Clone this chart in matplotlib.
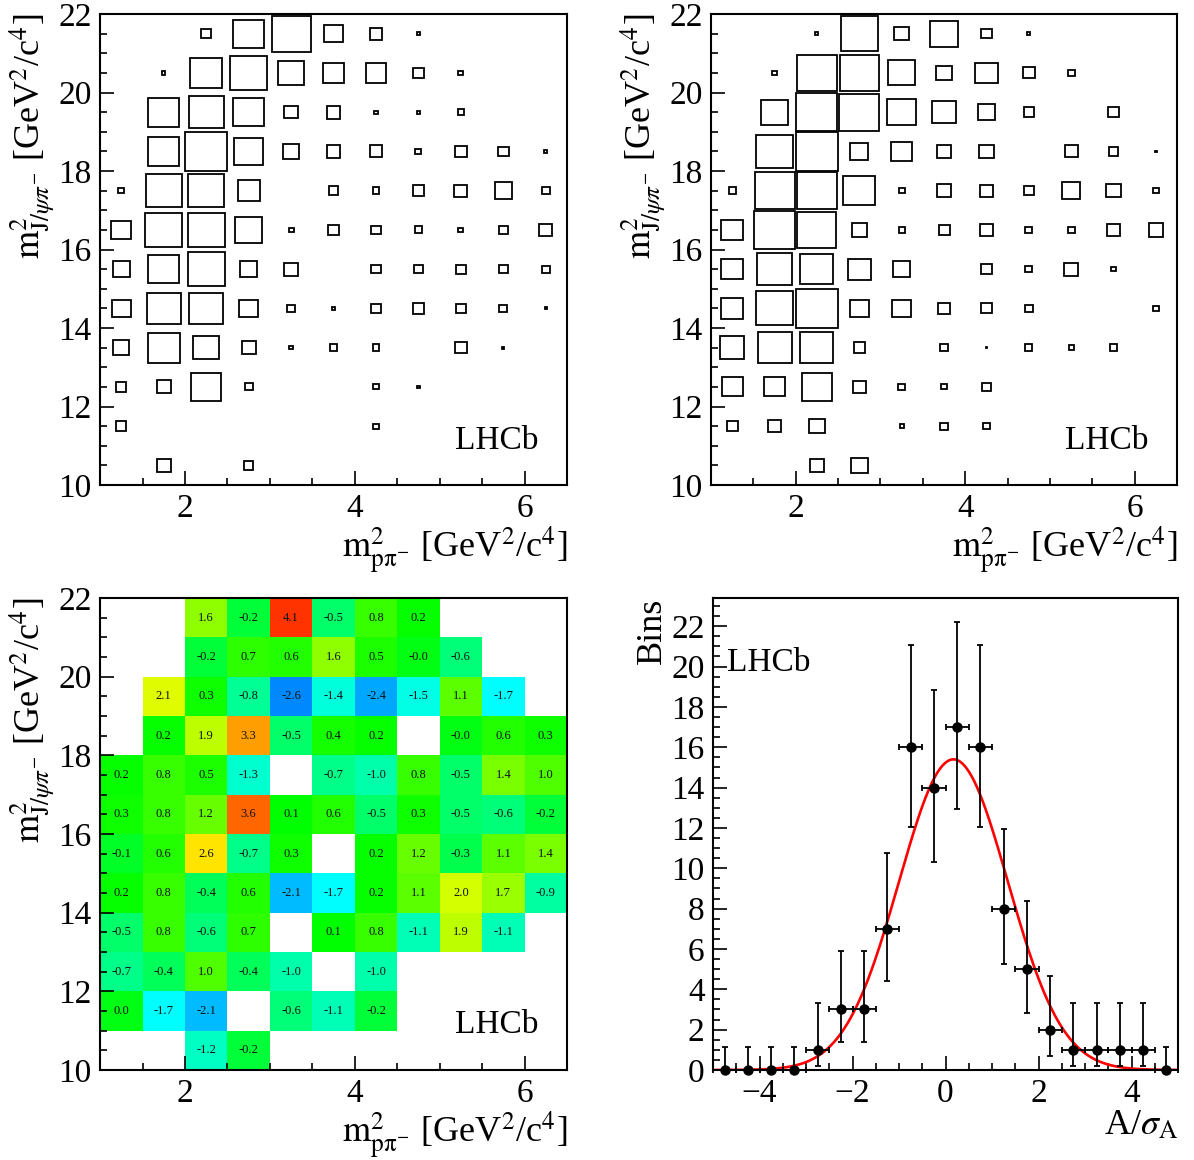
import math
import matplotlib
matplotlib.use("Agg")
import matplotlib.pyplot as plt
from matplotlib.patches import Rectangle
from matplotlib.colors import LinearSegmentedColormap
from matplotlib.ticker import MultipleLocator
import numpy as np

plt.rcParams["font.family"] = ["Liberation Serif", "DejaVu Serif"]
plt.rcParams["mathtext.fontset"] = "stix"

# ── Binning ───────────────────────────────────────────────────────────────────
X_EDGES = np.arange(1.0, 6.51, 0.5)     # m2(p pi-)
Y_EDGES = np.arange(10.0, 22.01, 1.0)   # m2(J/psi pi-)

# ── Data (rows: top bin 21-22 down to 10-11, cols: 1.0-1.5 ... 6.0-6.5) ─────
counts_left = [
    [0, 0, 9, 78, 127, 30, 14, 1, 0, 0, 0],
    [0, 1, 87, 114, 54, 36, 36, 11, 2, 0, 0],
    [0, 82, 101, 78, 15, 16, 1, 1, 3, 0, 0],
    [0, 82, 150, 67, 22, 15, 14, 3, 11, 9, 0.6],
    [3, 108, 108, 41, 0, 7, 4, 11, 14, 26, 5],
    [33, 114, 114, 63, 2, 9, 7, 5, 2, 7, 14],
    [25, 80, 116, 24, 17, 0, 7, 7, 8, 6, 5],
    [30, 98, 98, 29, 5, 1, 9, 11, 9, 5, 0.4],
    [22, 87, 54, 16, 1, 4, 4, 0, 12, 0.4, 0],
    [9, 17, 76, 5, 0, 0, 2.5, 0.4, 0, 0, 0],
    [9, 0, 0, 0, 0, 0, 2.5, 0, 0, 0, 0],
    [0, 17, 0, 7, 0, 0, 0, 0, 0, 0, 0],
]

counts_right = [
    [0, 0, 0.7, 116, 18, 65, 9, 0.7, 0, 0, 0],
    [0, 2, 130, 130, 61, 21, 42, 12, 4, 0, 0],
    [0, 60, 141, 135, 69, 45, 24, 9, 0, 11, 0],
    [0, 111, 150, 28, 37, 15, 17, 0, 14, 7, 0.3],
    [4, 133, 133, 84, 3, 15, 14, 9, 28, 17, 2.5],
    [41, 138, 127, 19, 3, 10, 14, 4, 4, 13, 18],
    [39, 98, 91, 42, 23, 0, 10, 4, 16, 2, 0],
    [41, 114, 147, 30, 30, 13, 10, 5, 0, 0, 2.5],
    [49, 96, 91, 11, 0, 5, 0.2, 4, 2, 5, 0],
    [36, 36, 74, 13, 3.4, 2.5, 7, 0, 0, 0, 0],
    [10, 15, 21, 0, 1.2, 5, 4, 0, 0, 0, 0],
    [0, 0, 17, 23, 0, 0, 0, 0, 0, 0, 0],
]

nan = np.nan
significance = [
    [nan, nan, 1.6, -0.2, 4.1, -0.5, 0.8, 0.2, nan, nan, nan],
    [nan, nan, -0.2, 0.7, 0.6, 1.6, 0.5, -0.0, -0.6, nan, nan],
    [nan, 2.1, 0.3, -0.8, -2.6, -1.4, -2.4, -1.5, 1.1, -1.7, nan],
    [nan, 0.2, 1.9, 3.3, -0.5, 0.4, 0.2, nan, -0.0, 0.6, 0.3],
    [0.2, 0.8, 0.5, -1.3, nan, -0.7, -1.0, 0.8, -0.5, 1.4, 1.0],
    [0.3, 0.8, 1.2, 3.6, 0.1, 0.6, -0.5, 0.3, -0.5, -0.6, -0.2],
    [-0.1, 0.6, 2.6, -0.7, 0.3, nan, 0.2, 1.2, -0.3, 1.1, 1.4],
    [0.2, 0.8, -0.4, 0.6, -2.1, -1.7, 0.2, 1.1, 2.0, 1.7, -0.9],
    [-0.5, 0.8, -0.6, 0.7, nan, 0.1, 0.8, -1.1, 1.9, -1.1, nan],
    [-0.7, -0.4, 1.0, -0.4, -1.0, nan, -1.0, nan, nan, nan, nan],
    [0.0, -1.7, -2.1, nan, -0.6, -1.1, -0.2, nan, nan, nan, nan],
    [nan, nan, -1.2, -0.2, nan, nan, nan, nan, nan, nan, nan],
]

# pull distribution A/sigma_A
PULL_EDGES = np.linspace(-5, 5, 21)
pull_counts = [0, 0, 0, 0, 1, 3, 3, 7, 16, 14, 17, 16, 8, 5, 2, 1, 1, 1, 1, 0]
gauss_amp, gauss_mean, gauss_sigma = 15.4, 0.17, 1.17

# ── Style ─────────────────────────────────────────────────────────────────────
TICK_FS  = 24
LABEL_FS = 26
LHCB_FS  = 24
YLABEL_JPSI = r"$\mathrm{m}^{2}_{\mathrm{J}/\psi\pi^{-}}$ [GeV$^{2}$/c$^{4}$]"
XLABEL_PPI  = r"$\mathrm{m}^{2}_{\mathrm{p\pi}^{-}}$ [GeV$^{2}$/c$^{4}$]"

root_palette = LinearSegmentedColormap.from_list("root", [
    (0.000, "#0088ff"), (0.030, "#00aaff"), (0.075, "#00bbff"),
    (0.134, "#00ffff"), (0.194, "#00ffcc"), (0.284, "#00ff88"),
    (0.343, "#00ff4a"), (0.403, "#00ff00"), (0.478, "#22ff00"),
    (0.567, "#66ff00"), (0.642, "#99ff00"), (0.694, "#ddff00"),
    (0.776, "#ffe400"), (0.881, "#ffa000"), (0.925, "#ff6600"),
    (1.000, "#ff3300"),
])


def style_axes(ax, xmajor=2, ymajor=2):
    ax.xaxis.set_major_locator(MultipleLocator(xmajor))
    ax.xaxis.set_minor_locator(MultipleLocator(0.5))
    ax.yaxis.set_major_locator(MultipleLocator(ymajor))
    ax.yaxis.set_minor_locator(MultipleLocator(0.5))
    ax.tick_params(which="both", direction="in", top=False, right=False,
                   width=1.2, labelsize=TICK_FS)
    ax.tick_params(which="major", length=10, pad=6)
    ax.tick_params(which="minor", length=5)
    for sp in ax.spines.values():
        sp.set_linewidth(1.5)


def axis_labels(ax, xlabel, ylabel, ylab_x=-0.09, xlab_y=-0.084):
    ax.set_xlabel(xlabel, fontsize=LABEL_FS, loc="right")
    ax.set_ylabel(ylabel, fontsize=LABEL_FS, loc="top")
    ax.xaxis.set_label_coords(1.0, xlab_y)
    ax.yaxis.set_label_coords(ylab_x, 1.0)


def draw_boxes(ax, counts):
    counts = np.asarray(counts, dtype=float)
    zmax = counts.max()
    xc = 0.5 * (X_EDGES[:-1] + X_EDGES[1:])
    yc = 0.5 * (Y_EDGES[:-1] + Y_EDGES[1:])[::-1]
    bw, bh = X_EDGES[1] - X_EDGES[0], Y_EDGES[1] - Y_EDGES[0]
    for i, y in enumerate(yc):
        for j, x in enumerate(xc):
            c = counts[i, j]
            if c <= 0:
                continue
            s = np.sqrt(c / zmax)
            w, h = s * bw, s * bh
            ax.add_patch(Rectangle((x - w / 2, y - h / 2), w, h, fill=False,
                                   edgecolor="black", linewidth=1.3))
    ax.set_xlim(X_EDGES[0], X_EDGES[-1])
    ax.set_ylim(Y_EDGES[0], Y_EDGES[-1])


def poisson_interval(n, cl=0.6827):
    if n == 0:
        return 0.0, -math.log(1 - cl)
    alpha = (1 - cl) / 2

    def cdf(k, mu):
        return sum(math.exp(-mu) * mu ** i / math.factorial(i) for i in range(k + 1))

    def solve(f, target, lo, hi):
        for _ in range(80):
            mid = 0.5 * (lo + hi)
            if f(mid) > target:
                lo = mid
            else:
                hi = mid
        return 0.5 * (lo + hi)

    up = solve(lambda mu: cdf(n, mu), alpha, 0.0, n + 20)
    low = solve(lambda mu: cdf(n - 1, mu), 1 - alpha, 0.0, n + 20)
    return low, up


# ── Figure ────────────────────────────────────────────────────────────────────
fig = plt.figure(figsize=(11.94, 11.6), dpi=100)
ax_tl = fig.add_axes([0.0838, 0.5819, 0.3911, 0.4060])
ax_tr = fig.add_axes([0.5955, 0.5819, 0.3903, 0.4060])
ax_bl = fig.add_axes([0.0838, 0.0776, 0.3911, 0.4069])
ax_br = fig.add_axes([0.5972, 0.0776, 0.3894, 0.4069])

# top: box plots
for ax, counts in ((ax_tl, counts_left), (ax_tr, counts_right)):
    draw_boxes(ax, counts)
    style_axes(ax)
    axis_labels(ax, XLABEL_PPI, YLABEL_JPSI)
    ax.text(0.76, 0.095, "LHCb", transform=ax.transAxes, fontsize=LHCB_FS,
            va="center", ha="left")

# bottom-left: significance map
sig = np.ma.masked_invalid(np.array(significance)[::-1])
ax_bl.pcolormesh(X_EDGES, Y_EDGES, sig, cmap=root_palette, vmin=-2.6, vmax=4.1)
xc = 0.5 * (X_EDGES[:-1] + X_EDGES[1:])
yc = 0.5 * (Y_EDGES[:-1] + Y_EDGES[1:])[::-1]
for i, y in enumerate(yc):
    for j, x in enumerate(xc):
        v = significance[i][j]
        if np.isnan(v):
            continue
        ax_bl.text(x, y, f"{v:.1f}", ha="center", va="center",
                   fontsize=9, color="#111111")
ax_bl.set_xlim(X_EDGES[0], X_EDGES[-1])
ax_bl.set_ylim(Y_EDGES[0], Y_EDGES[-1])
style_axes(ax_bl)
axis_labels(ax_bl, XLABEL_PPI, YLABEL_JPSI)
ax_bl.text(0.76, 0.095, "LHCb", transform=ax_bl.transAxes, fontsize=LHCB_FS,
           va="center", ha="left")

# bottom-right: pull distribution with Gaussian fit
centers = 0.5 * (PULL_EDGES[:-1] + PULL_EDGES[1:])
half_w = 0.5 * (PULL_EDGES[1] - PULL_EDGES[0])
lows, ups = [], []
for n in pull_counts:
    lo, up = poisson_interval(n)
    lows.append(n - lo)
    ups.append(up - n)
ax_br.errorbar(centers, pull_counts, xerr=half_w, yerr=[lows, ups], fmt="o",
               color="black", markersize=6.5, elinewidth=1.3, capsize=2.5,
               capthick=1.3, zorder=3, clip_on=False)
xf = np.linspace(PULL_EDGES[0], PULL_EDGES[-1], 400)
ax_br.plot(xf, gauss_amp * np.exp(-0.5 * ((xf - gauss_mean) / gauss_sigma) ** 2),
           color="red", linewidth=1.9, zorder=2)
ax_br.set_xlim(PULL_EDGES[0], PULL_EDGES[-1])
ax_br.set_ylim(0, 23.4)
style_axes(ax_br)
axis_labels(ax_br, r"A/$\sigma_{\mathrm{A}}$", "Bins", ylab_x=-0.095)
ax_br.text(0.03, 0.862, "LHCb", transform=ax_br.transAxes, fontsize=LHCB_FS,
           va="center", ha="left")

fig.savefig("out.png", dpi=100, facecolor="white")
plt.close(fig)
